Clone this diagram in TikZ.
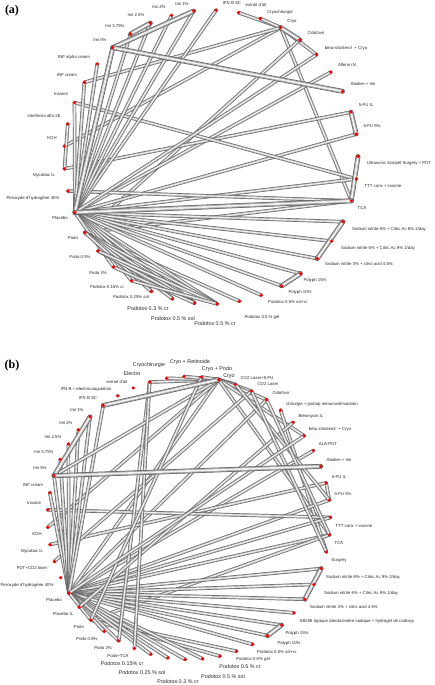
\documentclass[tikz,border=0pt]{standalone}
\usepackage{fontspec}
\setmainfont{Liberation Sans}
\newfontfamily\titlefont{Liberation Serif}
\usetikzlibrary{backgrounds}
\begin{document}
\begin{tikzpicture}[x=1pt,y=1pt,
  dot/.style={circle,fill=red,inner sep=0pt,minimum size=3.6pt},
  lab/.style={inner sep=0pt,font=\fontsize{4.3}{5}\selectfont,text=black!85},
  blab/.style={inner sep=0pt,font=\fontsize{5.4}{6}\selectfont,text=black!85},
  tube/.style={line cap=round,draw=black!66,line width=3.5pt,
    postaction={draw=black!34,line width=2.6pt,line cap=round},
    postaction={draw=black!6,line width=1.1pt,line cap=round}},
  ttube/.style={line cap=round,draw=black!68,line width=4.8pt,
    postaction={draw=black!36,line width=3.8pt,line cap=round},
    postaction={draw=black!6,line width=1.7pt,line cap=round}},
  ttl/.style={inner sep=0pt,font=\titlefont\bfseries\fontsize{12}{12}\selectfont}
  ]
\useasboundingbox (0,0) rectangle (434,-685);
\node[ttl] (ta) at (12,-11) {(a)};
\node[ttl] (tb) at (12,-366) {(b)};
% ---------- panel (a) nodes ----------
\foreach \i in {0,...,40}{\node[dot] (a\i) at ({211+147*cos(88-8.78*\i)},{-157+147*sin(88-8.78*\i)}) {};}
% ---------- panel (b) nodes ----------
\foreach \i in {0,...,50}{\node[dot] (b\i) at ({189+141.5*cos(127.3-7.0588*\i)},{-518+141.5*sin(127.3-7.0588*\i)}) {};}
% ---------- panel (a) edges ----------
\begin{scope}[on background layer]
\foreach \u/\v in {1/3,2/3,3/5,3/12,3/31,3/34,4/27,6/28,8/30,9/28,11/33,11/28,12/27,12/29,
  13/28,14/28,15/28,16/28,17/28,18/28,19/27,0/28,40/28,39/28,38/28,37/28,35/28,33/28,32/30,34/28,
  28/20,28/21,28/22,28/23,28/24,28/25,27/20,27/21,27/22,27/23,26/21,26/20,25/21,24/20,5/28}
  {\draw[tube] (a\u.center) -- (a\v.center);}
\foreach \u/\v in {40/36,38/37,3/4,8/9,10/12,13/15,16/17,36/28,12/28,7/36}
  {\draw[ttube] (a\u.center) -- (a\v.center);}
% ---------- panel (b) edges ----------
\foreach \u/\v in {3/7,4/7,5/7,6/7,7/8,7/9,7/10,7/13,7/19,7/39,7/43,10/39,11/20,14/39,16/17,16/42,
  17/39,18/44,18/39,19/39,19/37,21/39,22/39,23/39,24/39,25/39,26/39,27/39,28/37,29/37,30/39,31/39,
  32/39,33/39,35/39,36/39,37/39,41/9,45/39,46/39,47/39,48/39,49/39,50/39,0/39,3/35,12/38,46/7,
  3/34,6/37,8/17,9/20,10/19,13/39}
  {\draw[tube] (b\u.center) -- (b\v.center);}
\foreach \u/\v in {50/46,0/7,15/46,21/23,25/26}
  {\draw[ttube] (b\u.center) -- (b\v.center);}
\end{scope}
% ---------- panel (a) labels ----------
\node[lab] (la0) at (232,-3) {IFN B SC};
\node[lab] (la1) at (256,-5) {extrait d'ail};
\node[lab] (la2) at (280,-12) {Cryochirurgie};
\node[lab] (la3) at (292,-21) {Cryo};
\node[lab] (la4) at (316,-33) {Cidofovir};
\node[lab] (la5) at (346,-48) {beta-sitosterol\,\, + Cryo};
\node[lab] (la6) at (347,-65) {Alferon N};
\node[lab] (la7) at (363,-84) {Abalive + Imi};
\node[lab] (la8) at (366,-105) {5-FU IL};
\node[lab] (la9) at (372,-126) {5-FU 5\%};
\node[lab] (la10) at (399,-163) {Ultrasonic Scalpel Surgery + PDT};
\node[lab] (la11) at (383,-186) {TTT conv + inosine};
\node[lab] (la12) at (362,-208) {TCA};
\node[lab] (la13) at (389,-229) {Sodium nitrite 8\% + Citric Ac 8\% 2/day};
\node[lab] (la14) at (378,-248) {Sodium nitrite 6\% + Citric Ac 9\% 1/day};
\node[lab] (la15) at (359,-264) {Sodium nitrite 3\% + citric acid 4.5\%};
\node[lab] (la16) at (315,-280) {Polyph 15\%};
\node[lab] (la17) at (300,-292) {Polyph 10\%};
\node[lab] (la18) at (288,-302) {Podotox 0.5\% sol+cr};
\node[lab] (la19) at (262,-317) {Podotox 0.5 \% gel};
\node[blab] (la20) at (215,-324) {Podotox 0.5 \% cr};
\node[blab] (la21) at (173,-319) {Podotox 0.5 \% sol};
\node[blab] (la22) at (148,-309) {Podotox 0.3 \% cr};
\node[lab] (la23) at (131,-297) {Podotox 0.25\% sol};
\node[lab] (la24) at (107,-287) {Podotox 0.15\% cr};
\node[lab] (la25) at (98,-273) {Podo 2\%};
\node[lab] (la26) at (80,-257) {Podo 0.5\%};
\node[lab] (la27) at (73,-238) {Podo};
\node[lab] (la28) at (60,-218) {Placebo};
\node[lab] (la29) at (33,-198) {Peroxyde d'hydrogène 40\%};
\node[lab] (la30) at (44,-175) {Mycobac IL};
\node[lab] (la31) at (52,-138) {KOH};
\node[lab] (la32) at (44,-116) {interferon alfa-2b};
\node[lab] (la33) at (61,-94) {Inosine};
\node[lab] (la34) at (67,-75) {INF cream};
\node[lab] (la35) at (74,-57) {INF alpha cream};
\node[lab] (la36) at (100,-40) {Imi 5\%};
\node[lab] (la37) at (115,-26) {Imi 3.75\%};
\node[lab] (la38) at (136,-15) {Imi 2.5\%};
\node[lab] (la39) at (159,-7) {Imi 2\%};
\node[lab] (la40) at (182,-4) {Imi 1\%};
% ---------- panel (b) labels ----------
\node[lab] (lb0) at (88,-398) {IFN B SC};
\node[lab] (lb1) at (86,-389) {IFN B + electrocoagulation};
\node[lab] (lb2) at (117,-382) {extrait d'ail};
\node[blab] (lb3) at (132,-374) {Electro};
\node[blab] (lb4) at (149,-365) {Cryochirurgie};
\node[blab] (lb5) at (190,-362) {Cryo + Retinoide};
\node[blab] (lb6) at (217,-369) {Cryo + Podo};
\node[blab] (lb7) at (229,-376) {Cryo};
\node[lab] (lb8) at (257,-378) {CO2 Laser+5-FU};
\node[lab] (lb9) at (268,-384) {CO2 Laser};
\node[lab] (lb10) at (281,-393) {Cidofovir};
\node[lab] (lb11) at (322,-404) {chirurgie + postop immunostimulation};
\node[lab] (lb12) at (311,-416) {Bleomycin IL};
\node[lab] (lb13) at (330,-429) {beta sitosterol\,\, + Cryo};
\node[lab] (lb14) at (328,-444) {ALA-PDT};
\node[lab] (lb15) at (339,-460) {Abalive + Imi};
\node[lab] (lb16) at (339,-477) {5-FU IL};
\node[lab] (lb17) at (343,-494) {5-FU 5\%};
\node[lab] (lb18) at (354,-526) {TTT conv + inosine};
\node[lab] (lb19) at (339,-543) {TCA};
\node[lab] (lb20) at (339,-560) {Surgery};
\node[lab] (lb21) at (363,-577) {Sodium nitrite 8\% + Citric Ac 9\% 2/day};
\node[lab] (lb22) at (361,-593) {Sodium nitrite 6\% + Citric Ac 9\% 1/day};
\node[lab] (lb23) at (344,-607) {Sodium nitrite 3\% + citric acid 4.5\%};
\node[lab] (lb24) at (357,-621) {SB206 topique (berdazimère sodique + hydrogel de carboxy};
\node[lab] (lb25) at (297,-633) {Polyph 15\%};
\node[lab] (lb26) at (289,-643) {Polyph 10\%};
\node[lab] (lb27) at (277,-652) {Podotox 0.5\% sol+cr};
\node[lab] (lb28) at (253,-659) {Podotox 0.5\% gel};
\node[blab] (lb29) at (240,-667) {Podotox 0.5 \% cr};
\node[blab] (lb30) at (223,-677) {Podotox 0.5 \% sol};
\node[blab] (lb31) at (178,-682) {Podotox 0.3 \% cr};
\node[blab] (lb32) at (142,-673) {Podotox 0.25 \% sol};
\node[blab] (lb33) at (122,-664) {Podotox 0.15\% cr};
\node[lab] (lb34) at (118,-656) {Podo+TCA};
\node[lab] (lb35) at (103,-648) {Podo 2\%};
\node[lab] (lb36) at (87,-639) {Podo 0.8\%};
\node[lab] (lb37) at (79,-627) {Podo};
\node[lab] (lb38) at (63,-614) {Placebo IL};
\node[lab] (lb39) at (54,-600) {Placebo};
\node[lab] (lb40) at (27,-585) {Peroxyde d'hydrogène 40\%};
\node[lab] (lb41) at (32,-568) {PDT+CO2 laser};
\node[lab] (lb42) at (32,-551) {Mycobac IL};
\node[lab] (lb43) at (37,-534) {KOH};
\node[lab] (lb44) at (34,-503) {Inosine};
\node[lab] (lb45) at (33,-485) {INF cream};
\node[lab] (lb46) at (40,-468) {Imi 5\%};
\node[lab] (lb47) at (44,-452) {Imi 3.75\%};
\node[lab] (lb48) at (53,-437) {Imi 2.5\%};
\node[lab] (lb49) at (66,-423) {Imi 2\%};
\node[lab] (lb50) at (77,-410) {Imi 1\%};
\end{tikzpicture}
\end{document}
